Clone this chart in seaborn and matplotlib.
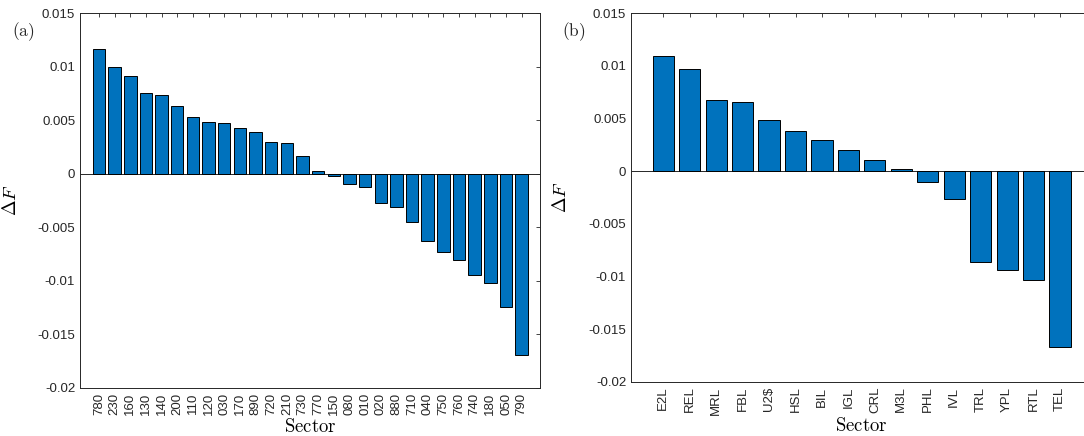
import matplotlib
matplotlib.use("Agg")
import matplotlib.pyplot as plt
import seaborn as sns

# ---- data ----
sectors_a = ["780", "230", "160", "130", "140", "200", "110", "120", "030", "170",
             "890", "720", "210", "730", "770", "150", "080", "010", "020", "880",
             "710", "040", "750", "760", "740", "180", "050", "790"]
delta_a = [0.01166, 0.00994, 0.00913, 0.00753, 0.00741, 0.00631, 0.00534, 0.00484,
           0.00478, 0.00428, 0.00391, 0.00297, 0.00291, 0.00169, 0.00030, -0.00016,
           -0.00097, -0.00120, -0.00272, -0.00310, -0.00453, -0.00631, -0.00728,
           -0.00809, -0.00947, -0.01020, -0.01240, -0.01690]

sectors_b = ["E2L", "REL", "MRL", "FBL", "U2$", "HSL", "BIL", "IGL", "CRL", "M3L",
             "PHL", "IVL", "TRL", "YPL", "RTL", "TEL"]
delta_b = [0.01091, 0.00967, 0.00672, 0.00653, 0.00482, 0.00381, 0.00292, 0.00203,
           0.00108, 0.00025, -0.00101, -0.00260, -0.00863, -0.00936, -0.01034, -0.01668]

yticks = [-0.02, -0.015, -0.01, -0.005, 0, 0.005, 0.01, 0.015]
ytick_labels = ["-0.02", "-0.015", "-0.01", "-0.005", "0", "0.005", "0.01", "0.015"]
panel_labels = ["(a)", "(b)"]

sns.set_style("white")
plt.rcParams["font.family"] = ["Liberation Sans", "DejaVu Sans"]
plt.rcParams["mathtext.fontset"] = "cm"

BAR = "#0072BD"
AX = "#262626"

fig = plt.figure(figsize=(10.84, 4.36), dpi=100)
ax1 = fig.add_axes([80 / 1084, 48 / 436, 460 / 1084, 374.7 / 436])
ax2 = fig.add_axes([631 / 1084, 54.3 / 436, 461.3 / 1084, 368.4 / 436])

for ax, cats, vals, xl in [(ax1, sectors_a, delta_a, (-1.21, len(sectors_a) - 1 + 1.17)),
                           (ax2, sectors_b, delta_b, (-1.22, len(sectors_b) - 1 + 1.22))]:
    sns.barplot(x=cats, y=vals, ax=ax, color=BAR, saturation=1, width=0.8,
                edgecolor="black", linewidth=0.7, zorder=3)
    ax.axhline(0, color=AX, lw=0.7, zorder=2)
    ax.set_xlim(*xl)
    ax.set_ylim(-0.02, 0.015)
    ax.set_yticks(yticks)
    ax.set_yticklabels(ytick_labels)
    ax.tick_params(axis="both", direction="in", length=3.2, width=0.6, color=AX,
                   labelsize=9.5, labelcolor=AX, top=True, right=True, pad=3.5)
    ax.tick_params(axis="x", labelrotation=90)
    for s in ax.spines.values():
        s.set_color(AX)
        s.set_linewidth(0.7)
        s.set_visible(True)
    ax.set_ylabel(r"$\Delta F$", fontsize=13.5, color="black")
    ax.set_xlabel(r"$\mathrm{Sector}$", fontsize=13.5, color="black")
    ax.grid(False)

ax1.yaxis.set_label_coords(-0.13, 0.5)
ax2.yaxis.set_label_coords(-0.132, 0.5)
ax1.xaxis.set_label_coords(0.5, -0.104)
ax2.xaxis.set_label_coords(0.5, -0.12)
ax1.xaxis.label.set_va("center")
ax2.xaxis.label.set_va("center")

fig.text(23 / 1084, 1 - 32 / 436, r"$\mathrm{" + panel_labels[0] + "}$", fontsize=12.5,
         ha="center", va="center")
fig.text(574 / 1084, 1 - 32 / 436, r"$\mathrm{" + panel_labels[1] + "}$", fontsize=12.5,
         ha="center", va="center")

fig.savefig("out.png", dpi=100)
